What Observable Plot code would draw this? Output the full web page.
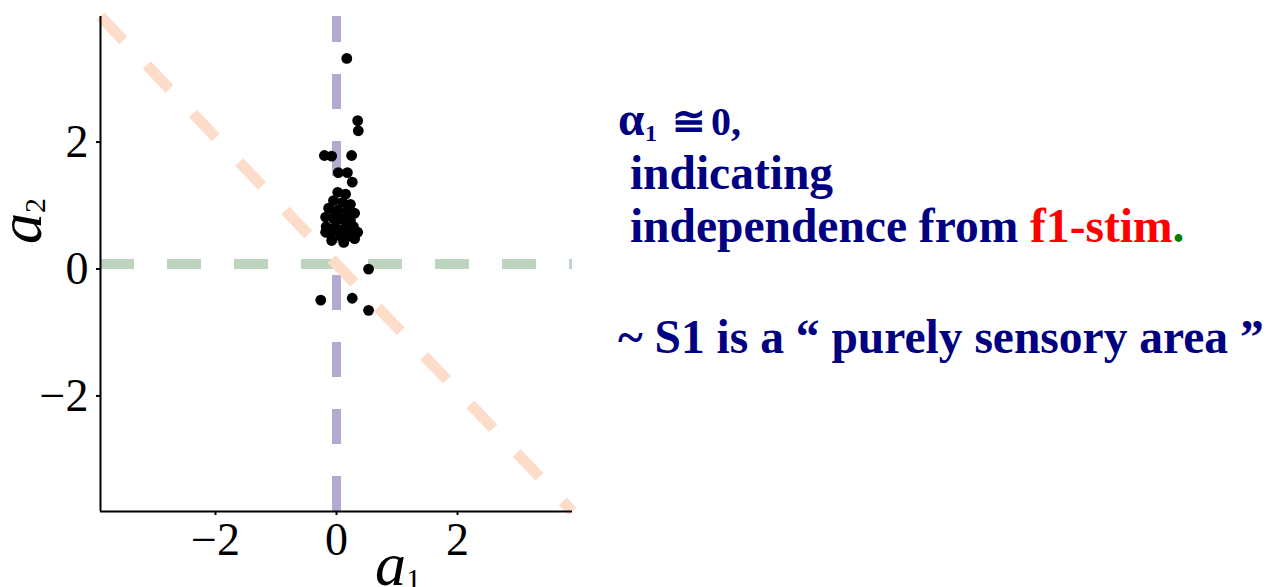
<!DOCTYPE html>
<html><head><meta charset="utf-8">
<script src="https://cdn.jsdelivr.net/npm/d3@7"></script>
<script src="https://cdn.jsdelivr.net/npm/@observablehq/plot@0.6"></script>
<style>
html,body{margin:0;padding:0;background:#fff;width:1276px;height:587px;overflow:hidden;}
#chart{position:absolute;left:0;top:0;}
#note{position:absolute;left:0;top:0;}
</style></head><body>
<div id="chart"></div>
<svg id="note" width="1276" height="587"></svg>
<script>
// ---- data ----
const a1 = [0.17, 0.35, 0.36, -0.20, -0.08, 0.25, 0.03, 0.18, 0.26,
  0.02, 0.15, -0.05, 0.10, 0.23, -0.13, 0.02, 0.17, 0.30, -0.18, -0.05, 0.08, 0.23,
  -0.17, -0.02, 0.13, 0.28, 0.35, -0.10, 0.07, 0.21, -0.08, 0.12, 0.30, 0.03, 0.17,
  -0.02, 0.26, -0.18,
  0.53, -0.26, 0.26, 0.53];
const a2 = [3.24, 2.26, 2.10, 1.71, 1.70, 1.71, 1.44, 1.44, 1.29,
  1.13, 1.10, 1.00, 0.97, 0.94, 0.88, 0.85, 0.83, 0.80, 0.74, 0.72, 0.71, 0.69,
  0.59, 0.58, 0.56, 0.59, 0.50, 0.47, 0.44, 0.44, 0.37, 0.34, 0.40, 0.51, 0.66,
  0.81, 0.50, 0.50,
  -0.08, -0.57, -0.54, -0.73];
const xTicks = [-2, 0, 2];
const yTicks = [-2, 0, 2];
const domainA1 = [-3.9, 3.9];
const domainA2 = [-3.9, 3.9];
const noteLines = [
  [{t: " indicating", c: "#000080"}],
  [{t: " independence from ", c: "#000080"}, {t: "f1-stim", c: "#ff0000"}, {t: ".", c: "#008000"}],
  [{t: "~ S1 is a \u201C purely sensory area \u201D", c: "#000080"}]
];

// ---- chart ----
const points = a1.map((x, i) => ({a1: x, a2: a2[i]}));
const diagonal = domainA1.map(x => ({a1: x, a2: -x}));
const fmt = d => (d < 0 ? "\u2212" : "") + Math.abs(d);

const fig = Plot.plot({
  width: 600, height: 587,
  marginLeft: 100, marginRight: 28, marginTop: 16, marginBottom: 76,
  x: {domain: domainA1},
  y: {domain: domainA2},
  style: {fontFamily: "'Liberation Serif', 'Times New Roman', serif", background: "transparent", overflow: "visible", color: "#000"},
  marks: [
    Plot.ruleY([0], {stroke: "#bdd5be", strokeWidth: 10, strokeDasharray: "34,33"}),
    Plot.ruleX([0], {y1: domainA2[0], y2: domainA2[1], stroke: "#b5a8d1", strokeWidth: 9, strokeDasharray: "35,32"}),
    Plot.line(diagonal, {x: "a1", y: "a2", stroke: "#fddcc9", strokeWidth: 11, strokeDasharray: "33,34", strokeLinecap: "butt"}),
    Plot.ruleX([domainA1[0]], {stroke: "#000", strokeWidth: 2}),
    Plot.ruleY([domainA2[0]], {stroke: "#000", strokeWidth: 2}),
    Plot.axisX(xTicks, {tickSize: 4, tickPadding: 7, label: null, fontSize: 46, strokeWidth: 2, tickFormat: fmt}),
    Plot.axisY(yTicks, {tickSize: 4, tickPadding: 8, label: null, fontSize: 46, dy: 5, strokeWidth: 2, tickFormat: fmt}),
    Plot.dot(points, {x: "a1", y: "a2", r: 5.4, fill: "#000"})
  ]
});
document.getElementById("chart").appendChild(fig);

// axis titles (italic a with subscripts)
const svg = d3.select(fig);
const xl = svg.append("text")
  .attr("x", 375).attr("y", 585).attr("text-anchor", "start")
  .attr("font-family", "'Liberation Serif', serif").attr("font-style", "italic")
  .attr("font-size", 62).attr("fill", "#000");
xl.append("tspan").text("a");
xl.append("tspan").attr("font-size", 30).attr("font-style", "normal").attr("dy", 4).text("1");

const yl = svg.append("text")
  .attr("transform", "translate(41,244) rotate(-90)").attr("text-anchor", "start")
  .attr("font-family", "'Liberation Serif', serif").attr("font-style", "italic")
  .attr("font-size", 62).attr("fill", "#000");
yl.append("tspan").text("a");
yl.append("tspan").attr("font-size", 30).attr("font-style", "normal").attr("dy", 4).text("2");

// ---- annotation text ----
const note = d3.select("#note");
const base = {ff: "'Liberation Serif', 'Times New Roman', serif", fs: 47.5};
const l1 = note.append("g").attr("font-family", base.ff).attr("font-weight", "bold").attr("fill", "#000080");
l1.append("text").attr("x", 618).attr("y", 135).attr("font-size", 47.5).text("\u03B1");
l1.append("text").attr("x", 645).attr("y", 141).attr("font-size", 24).text("1");
l1.append("text").attr("x", 672).attr("y", 135).attr("font-size", 40).text("\u2245");
l1.append("text").attr("x", 711).attr("y", 135).attr("font-size", 40).text("0,");

const baselines = [189, 242, 353];
noteLines.forEach((segs, i) => {
  const t = note.append("text")
    .attr("x", 618).attr("y", baselines[i])
    .attr("font-family", base.ff).attr("font-weight", "bold")
    .attr("font-size", base.fs).attr("xml:space", "preserve")
    .style("white-space", "pre");
  segs.forEach(s => t.append("tspan").attr("fill", s.c).text(s.t));
});
</script>
</body></html>
